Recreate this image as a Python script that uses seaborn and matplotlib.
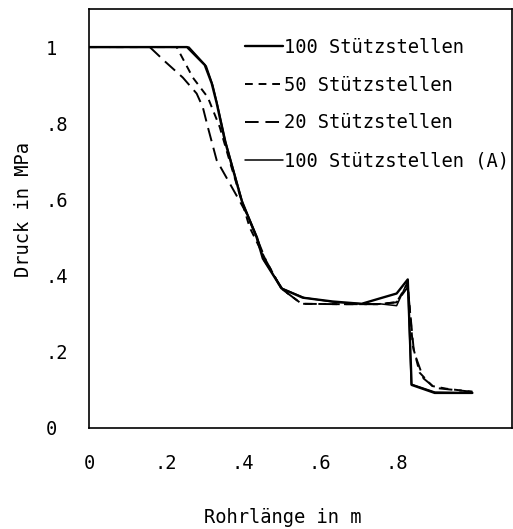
import matplotlib
matplotlib.use("Agg")
import matplotlib.pyplot as plt
import seaborn as sns
import pandas as pd

# Rohrlänge in m / Druck in MPa
x_100 = [0, 0.255, 0.301, 0.319, 0.332, 0.353, 0.397, 0.436, 0.452, 0.501, 0.556,
         0.634, 0.709, 0.756, 0.80, 0.829, 0.839, 0.899, 0.997]
y_100 = [1, 1, 0.953, 0.905, 0.853, 0.755, 0.597, 0.50, 0.445, 0.366, 0.342,
         0.332, 0.326, 0.34, 0.353, 0.39, 0.113, 0.092, 0.092]

x_50 = [0, 0.228, 0.27, 0.309, 0.34, 0.366, 0.418, 0.46, 0.50, 0.553, 0.65,
        0.75, 0.80, 0.829, 0.842, 0.86, 0.893, 0.93, 0.997]
y_50 = [1, 1, 0.92, 0.868, 0.79, 0.70, 0.526, 0.44, 0.366, 0.326, 0.325,
        0.325, 0.33, 0.38, 0.216, 0.145, 0.11, 0.103, 0.095]

x_20 = [0, 0.158, 0.2, 0.244, 0.28, 0.296, 0.309, 0.332, 0.366, 0.41, 0.436,
        0.46, 0.50, 0.553, 0.65, 0.75, 0.80, 0.829, 0.845, 0.87, 0.90, 0.997]
y_20 = [1, 1, 0.96, 0.92, 0.878, 0.842, 0.79, 0.703, 0.642, 0.563, 0.50,
        0.44, 0.366, 0.326, 0.325, 0.325, 0.33, 0.37, 0.2, 0.13, 0.105, 0.095]

x_100a = [0, 0.26, 0.305, 0.322, 0.335, 0.356, 0.40, 0.438, 0.455, 0.503, 0.56,
          0.64, 0.71, 0.756, 0.80, 0.829, 0.838, 0.90, 0.997]
y_100a = [1, 1, 0.95, 0.9, 0.845, 0.75, 0.59, 0.5, 0.44, 0.366, 0.342,
          0.33, 0.326, 0.326, 0.321, 0.385, 0.115, 0.094, 0.092]

labels = ["100 Stützstellen", "50 Stützstellen", "20 Stützstellen",
          "100 Stützstellen (A)"]
x_ticks = [0, 0.2, 0.4, 0.6, 0.8]
x_ticklabels = ["0", ".2", ".4", ".6", ".8"]
y_ticks = [0, 0.2, 0.4, 0.6, 0.8, 1.0]
y_ticklabels = ["0", ".2", ".4", ".6", ".8", "1"]


def main():
    sns.set_style("white")
    plt.rcParams["font.family"] = ["DejaVu Sans Mono"]
    plt.rcParams["text.color"] = "black"
    plt.rcParams["xtick.color"] = "black"
    plt.rcParams["ytick.color"] = "black"
    plt.rcParams["axes.labelcolor"] = "black"
    fs = 13.5

    fig = plt.figure(figsize=(5.13, 5.29), dpi=100)
    ax = fig.add_axes([0.1735, 0.191, 0.8245, 0.792])

    series = [
        (x_100, y_100, "-", 1.7),
        (x_50, y_50, (0, (4, 3)), 1.4),
        (x_20, y_20, (0, (7, 3.5)), 1.4),
        (x_100a, y_100a, "-", 1.1),
    ]
    for (xs, ys, ls, lw), lab in zip(series, labels):
        df = pd.DataFrame({"x": xs, "y": ys})
        sns.lineplot(data=df, x="x", y="y", sort=False, ax=ax, color="black",
                     linestyle=ls, linewidth=lw, label=lab)

    ax.set_xlim(0, 1.1)
    ax.set_ylim(0, 1.1)
    ax.set_xticks(x_ticks)
    ax.set_xticklabels(x_ticklabels)
    ax.set_yticks(y_ticks)
    ax.set_yticklabels(y_ticklabels)
    ax.tick_params(axis="both", direction="inout", length=5, width=1,
                   color="black", labelcolor="black", labelsize=fs)
    ax.tick_params(axis="x", pad=16)
    ax.tick_params(axis="y", pad=28.5)
    for t in ax.get_yticklabels():
        t.set_horizontalalignment("left")
    for sp in ax.spines.values():
        sp.set_visible(True)
        sp.set_color("black")
        sp.set_linewidth(1.2)

    ax.set_xlabel("Rohrlänge in m", fontsize=fs, color="black")
    ax.set_ylabel("Druck in MPa", fontsize=fs, color="black")
    ax.xaxis.set_label_coords(0.459, -0.19)
    ax.yaxis.set_label_coords(-0.132, 0.521)

    leg = ax.legend(loc="upper left", bbox_to_anchor=(0.369, 0.931),
                    frameon=False, fontsize=fs, handlelength=2.0,
                    handletextpad=0.1, labelspacing=1.0, borderpad=0,
                    borderaxespad=0)
    for t in leg.get_texts():
        t.set_color("black")

    fig.savefig("out.png", dpi=100)


if __name__ == "__main__":
    main()
